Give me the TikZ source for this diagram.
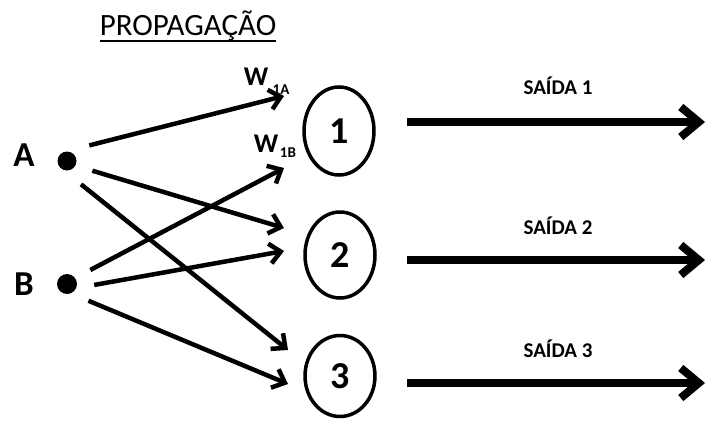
\documentclass[tikz,border=0pt]{standalone}
\usepackage{fontspec}
\setmainfont{Carlito}
\usetikzlibrary{shapes.geometric,arrows.meta}
\begin{document}
\begin{tikzpicture}[x=1pt,y=-1pt,
  neuron/.style={draw, ellipse, line width=3.5pt, minimum width=70pt, minimum height=88pt, inner sep=0pt,
                 font=\bfseries\fontsize{38}{38}\selectfont},
  inp/.style={circle, minimum size=54pt, inner sep=0pt},
  inlabel/.style={font=\bfseries\fontsize{35}{35}\selectfont},
  conn/.style={line width=4.5pt, -{Straight Barb[length=11pt,width=20pt]}},
  outarr/.style={line width=8pt, -{Straight Barb[length=18pt,width=30pt]}},
  outlabel/.style={font=\bfseries\fontsize{21}{21}\selectfont},
  wlabel/.style={font=\bfseries\fontsize{27}{27}\selectfont, inner sep=0pt},
  wsub/.style={font=\bfseries\fontsize{15}{15}\selectfont, inner sep=0pt}
]
\useasboundingbox (0,0) rectangle (706,423);
% title
\node[font=\fontsize{31}{31}\selectfont, inner sep=0pt] (title) at (188,26) {PROPAGAÇÃO};
\draw[line width=2.5pt] (title.south west |- 0,41) coordinate (ul1) -- (title.south east |- 0,41) coordinate (ul2);
% inputs
\node[inlabel] (la) at (24,155) {A};
\node[inlabel] (lb) at (24,284) {B};
\node[inp] (A) at (67,161) {};
\node[inp] (B) at (67,284) {};
\fill (A.center) circle (9.5);
\fill (B.center) circle (10);
% neurons
\node[neuron, minimum height=88pt] (n1) at (339,131) {1};
\node[neuron, minimum height=86pt] (n2) at (340,255) {2};
\node[neuron, minimum height=81pt] (n3) at (340,376) {3};
% tips
\coordinate (t1a) at (284,96);
\coordinate (t2a) at (284,228);
\coordinate (t3a) at (288,350);
\coordinate (t1b) at (284,168);
\coordinate (t2b) at (284,251);
\coordinate (t3b) at (288,384);
\draw[conn] (A.35) -- (t1a);
\draw[conn] (A.-21) -- (t2a);
\draw[conn] (A.-59) -- (t3a);
\draw[conn] (B.31) -- (t1b);
\draw[conn] (B.-2) -- (t2b);
\draw[conn] (B.-38) -- (t3b);
% weights
\node[wlabel] (w1a) at (256,77) {W};
\node[wsub] (s1a) at (281,90) {1A};
\node[wlabel] (w1b) at (266,144) {W};
\node[wsub] (s1b) at (288,153) {1B};
% outputs
\coordinate (o1) at (705,122);
\coordinate (o2) at (705,260);
\coordinate (o3) at (705,383);
\draw[outarr] (407,122) coordinate (s1) -- (o1);
\draw[outarr] (407,260) coordinate (s2) -- (o2);
\draw[outarr] (407,383) coordinate (s3) -- (o3);
\node[outlabel] (l1) at (558,86) {SAÍDA 1};
\node[outlabel] (l2) at (558,226) {SAÍDA 2};
\node[outlabel] (l3) at (558,349) {SAÍDA 3};
\end{tikzpicture}
\end{document}
